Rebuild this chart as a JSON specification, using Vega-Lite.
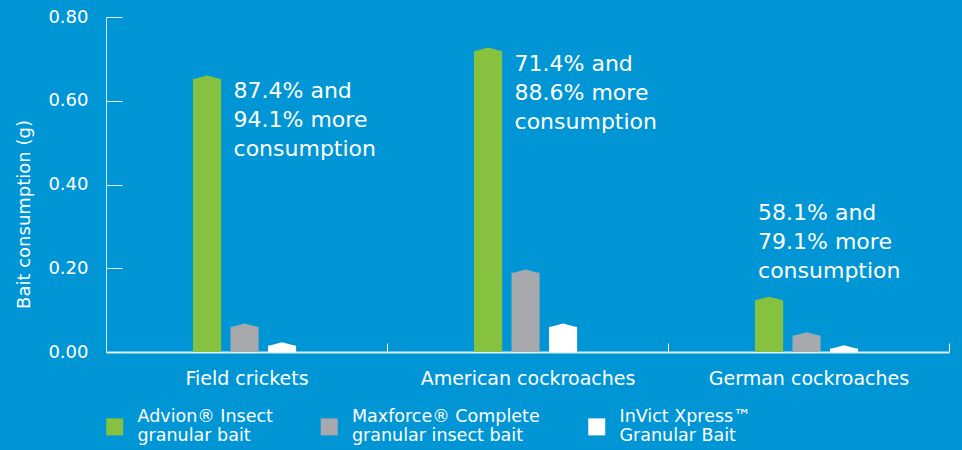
{
  "$schema": "https://vega.github.io/schema/vega-lite/v6.json",
  "width": 843,
  "height": 335,
  "autosize": {"type": "none"},
  "padding": {"left": 106, "top": 17, "right": 13, "bottom": 98},
  "background": "#0096d6",
  "config": {"view": {"stroke": null}, "font": "DejaVu Sans"},
  "datasets": {
    "bars": [
      {"insect": "Field crickets", "product": "Advion® Insect|granular bait", "consumption": 0.652},
      {"insect": "Field crickets", "product": "Maxforce® Complete|granular insect bait", "consumption": 0.06},
      {"insect": "Field crickets", "product": "InVict Xpress™|Granular Bait", "consumption": 0.015},
      {"insect": "American cockroaches", "product": "Advion® Insect|granular bait", "consumption": 0.719},
      {"insect": "American cockroaches", "product": "Maxforce® Complete|granular insect bait", "consumption": 0.189},
      {"insect": "American cockroaches", "product": "InVict Xpress™|Granular Bait", "consumption": 0.06},
      {"insect": "German cockroaches", "product": "Advion® Insect|granular bait", "consumption": 0.124},
      {"insect": "German cockroaches", "product": "Maxforce® Complete|granular insect bait", "consumption": 0.039},
      {"insect": "German cockroaches", "product": "InVict Xpress™|Granular Bait", "consumption": 0.008}
    ],
    "notes": [
      {"insect": "Field crickets", "next_to": "Maxforce® Complete|granular insect bait", "y": 0.647, "lines": ["87.4% and", "94.1% more", "consumption"]},
      {"insect": "American cockroaches", "next_to": "Maxforce® Complete|granular insect bait", "y": 0.711, "lines": ["71.4% and", "88.6% more", "consumption"]},
      {"insect": "German cockroaches", "next_to": "Advion® Insect|granular bait", "y": 0.355, "lines": ["58.1% and", "79.1% more", "consumption"]}
    ]
  },
  "layer": [
    {
      "data": {"name": "bars"},
      "mark": {"type": "bar"},
      "encoding": {
        "x": {
          "field": "insect", "type": "nominal",
          "sort": ["Field crickets", "American cockroaches", "German cockroaches"],
          "scale": {"paddingInner": 0, "paddingOuter": 0},
          "axis": {
            "title": null, "labelAngle": 0, "tickBand": "extent", "tickSize": -9,
            "tickColor": "#ffffff", "labelFontSize": 19, "labelColor": "#ffffff", "labelLimit": 300,
            "domainColor": "#d6eefa", "domainWidth": 2, "labelPadding": 26
          }
        },
        "xOffset": {
          "field": "product", "type": "nominal",
          "scale": {
            "domain": ["Advion® Insect|granular bait", "Maxforce® Complete|granular insect bait", "InVict Xpress™|Granular Bait"],
            "range": [87, 190.1],
            "paddingInner": 0.25, "paddingOuter": 0
          }
        },
        "y": {
          "field": "consumption", "type": "quantitative",
          "scale": {"domain": [0, 0.8]},
          "axis": {
            "title": "Bait consumption (g)", "values": [0, 0.2, 0.4, 0.6, 0.8], "format": ".2f",
            "grid": false, "tickSize": -16, "labelPadding": 34, "tickColor": "#e6f4fc",
            "domainColor": "#cde9f8", "labelFontSize": 18, "labelColor": "#ffffff",
            "titleColor": "#ffffff", "titleFontSize": 18, "titleFontWeight": "normal", "titlePadding": 14,
            "titleY": 197
          }
        },
        "color": {
          "field": "product", "type": "nominal",
          "scale": {
            "domain": ["Advion® Insect|granular bait", "Maxforce® Complete|granular insect bait", "InVict Xpress™|Granular Bait"],
            "range": ["#86c13f", "#a7a9ac", "#ffffff"]
          },
          "legend": {
            "title": null, "orient": "bottom", "direction": "horizontal", "symbolType": "square",
            "symbolSize": 289, "symbolStrokeWidth": 0, "symbolOpacity": 1, "labelFontSize": 17.5, "labelColor": "#ffffff",
            "labelOffset": 14, "columnPadding": 47.5, "labelLimit": 300, "offset": 30,
            "labelBaseline": "line-bottom",
            "labelExpr": "split(datum.label, '|')"
          }
        }
      }
    },
    {
      "data": {"name": "bars"},
      "mark": {"type": "point", "filled": true, "opacity": 1, "strokeWidth": 0, "size": 784, "shape": "M-1,0.02L0,-0.24L1,0.02Z"},
      "encoding": {
        "x": {"field": "insect", "type": "nominal", "sort": ["Field crickets", "American cockroaches", "German cockroaches"]},
        "xOffset": {"field": "product", "type": "nominal"},
        "y": {"field": "consumption", "type": "quantitative"},
        "color": {"field": "product", "type": "nominal"}
      }
    },
    {
      "data": {"name": "notes"},
      "mark": {"type": "text", "align": "left", "baseline": "top", "dx": -11, "fontSize": 22, "lineHeight": 29, "color": "#ffffff"},
      "encoding": {
        "x": {"field": "insect", "type": "nominal", "sort": ["Field crickets", "American cockroaches", "German cockroaches"]},
        "xOffset": {"field": "next_to", "type": "nominal"},
        "y": {"field": "y", "type": "quantitative"},
        "text": {"field": "lines"}
      }
    }
  ]
}
